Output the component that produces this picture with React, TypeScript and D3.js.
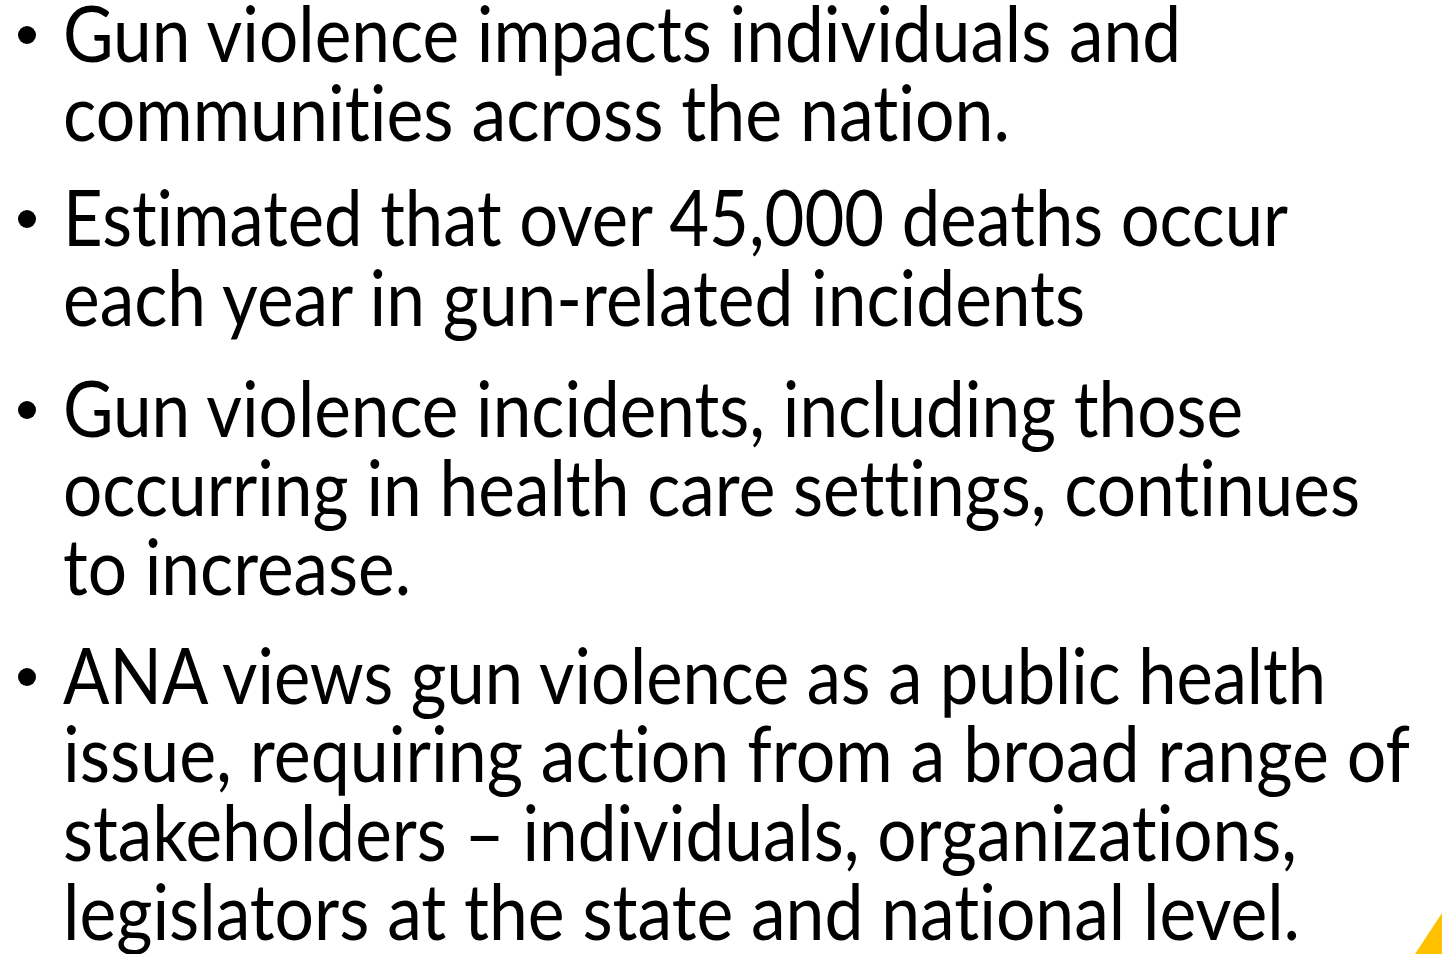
import * as d3 from 'd3';
import { useEffect, useRef } from 'react';

const W = 1442;
const H = 954;

// bullet text, one array of wrapped lines per bullet
const bullets: string[][] = [
  ['Gun violence impacts individuals and', 'communities across the nation.'],
  ['Estimated that over 45,000 deaths occur', 'each year in gun-related incidents'],
  [
    'Gun violence incidents, including those',
    'occurring in health care settings, continues',
    'to increase.',
  ],
  [
    'ANA views gun violence as a public health',
    'issue, requiring action from a broad range of',
    'stakeholders – individuals, organizations,',
    'legislators at the state and national level.',
  ],
];

// baselines of each line
const baselines: number[][] = [
  [62, 141],
  [246, 326],
  [437, 516, 595],
  [704, 782, 861, 940],
];

// right edge of each line, to fit the narrower original font
const lineEnds: number[][] = [
  [1181, 1010],
  [1288, 1085],
  [1243, 1360, 411],
  [1326, 1410, 1297, 1300],
];

export default function App() {
  const svgRef = useRef<SVGSVGElement>(null);

  useEffect(() => {
    if (!svgRef.current) return;
    const svg = d3.select(svgRef.current);
    svg.selectAll('*').remove();

    const textX = 63;

    bullets.forEach((lines, i) => {
      const g = svg.append('g');
      g.append('circle')
        .attr('cx', 27)
        .attr('cy', baselines[i][0] - 27)
        .attr('r', 9)
        .attr('fill', '#000');
      lines.forEach((line, j) => {
        g.append('text')
          .attr('x', textX)
          .attr('y', baselines[i][j])
          .attr('font-family', 'Lato, "Open Sans", sans-serif')
          .attr('font-size', 77)
          .attr('fill', '#000')
          .style('font-variant-ligatures', 'none')
          .style('font-feature-settings', '"liga" 0, "clig" 0')
          .attr('textLength', lineEnds[i][j] - textX)
          .attr('lengthAdjust', 'spacingAndGlyphs')
          .text(line);
      });
    });

    // yellow corner accent
    svg.append('path')
      .attr('d', d3.line()([[1415, H], [W, 913], [W, H]]) + 'Z')
      .attr('fill', '#FFC000');
  }, []);

  return (
    <div style={{ position: 'fixed', left: 0, top: 0, width: W, height: H, background: '#fff' }}>
      <svg ref={svgRef} width={W} height={H} style={{ display: 'block' }} />
    </div>
  );
}
